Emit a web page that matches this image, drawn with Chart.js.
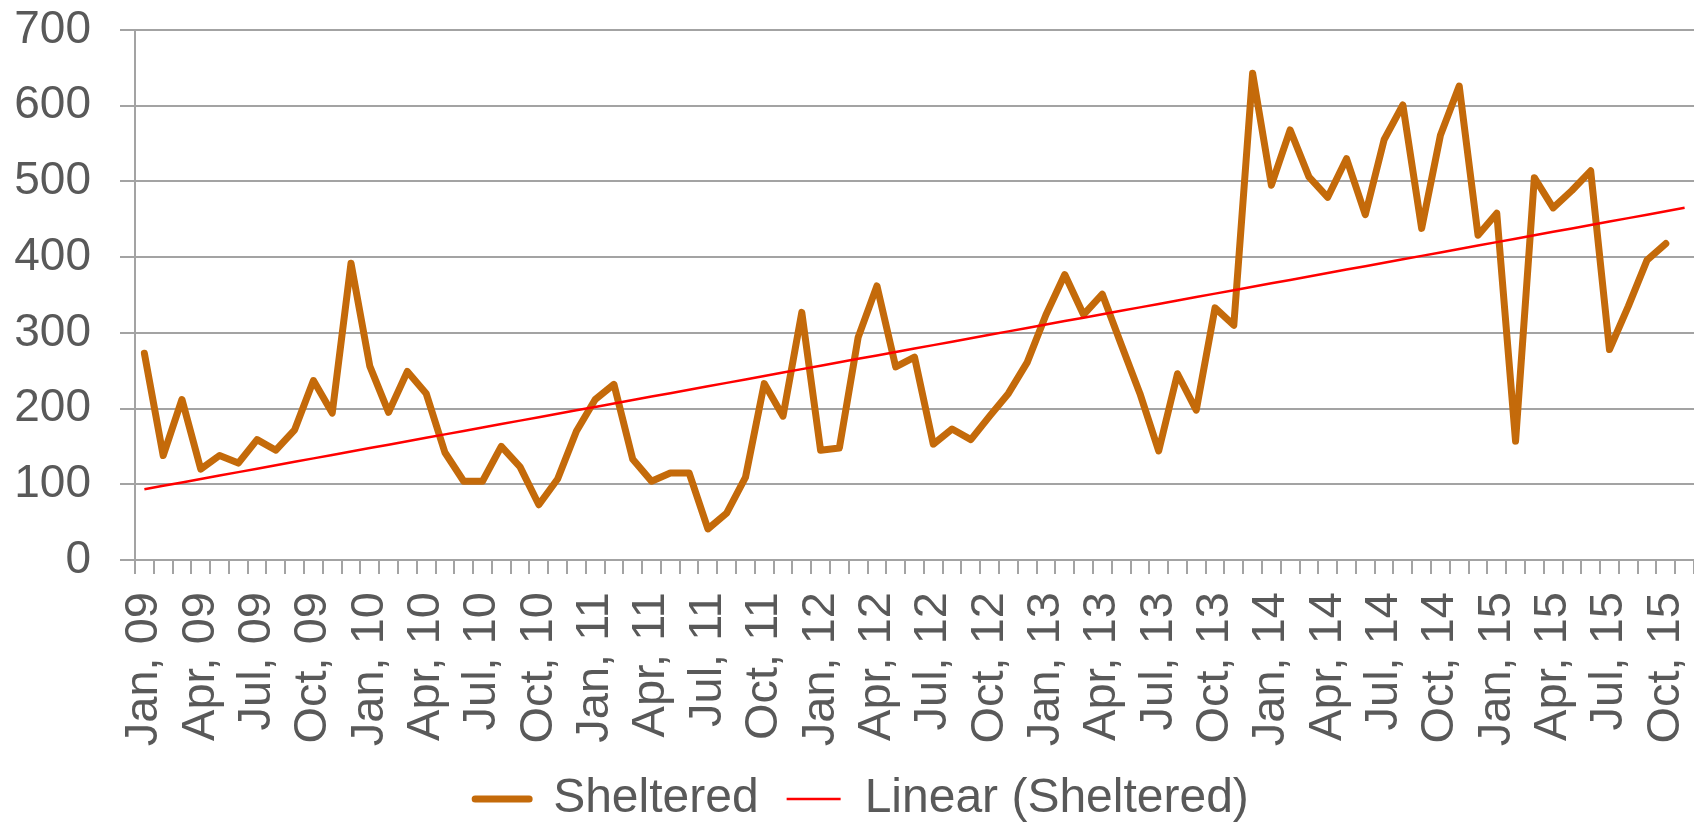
<!DOCTYPE html>
<html>
<head>
<meta charset="utf-8">
<script src="https://cdn.jsdelivr.net/npm/chart.js@4.4.1/dist/chart.umd.min.js"></script>
<style>
html,body{margin:0;padding:0;background:#ffffff;}
#wrap{width:1694px;height:825px;position:relative;}
</style>
</head>
<body>
<div id="wrap"><canvas id="c" width="1694" height="825"></canvas></div>
<script>
// Monthly categories (last one, Nov 15, only carries the one-period trend forecast)
const categories = [
  "Jan, 09","Feb, 09","Mar, 09","Apr, 09","May, 09","Jun, 09","Jul, 09","Aug, 09","Sep, 09","Oct, 09","Nov, 09","Dec, 09",
  "Jan, 10","Feb, 10","Mar, 10","Apr, 10","May, 10","Jun, 10","Jul, 10","Aug, 10","Sep, 10","Oct, 10","Nov, 10","Dec, 10",
  "Jan, 11","Feb, 11","Mar, 11","Apr, 11","May, 11","Jun, 11","Jul, 11","Aug, 11","Sep, 11","Oct, 11","Nov, 11","Dec, 11",
  "Jan, 12","Feb, 12","Mar, 12","Apr, 12","May, 12","Jun, 12","Jul, 12","Aug, 12","Sep, 12","Oct, 12","Nov, 12","Dec, 12",
  "Jan, 13","Feb, 13","Mar, 13","Apr, 13","May, 13","Jun, 13","Jul, 13","Aug, 13","Sep, 13","Oct, 13","Nov, 13","Dec, 13",
  "Jan, 14","Feb, 14","Mar, 14","Apr, 14","May, 14","Jun, 14","Jul, 14","Aug, 14","Sep, 14","Oct, 14","Nov, 14","Dec, 14",
  "Jan, 15","Feb, 15","Mar, 15","Apr, 15","May, 15","Jun, 15","Jul, 15","Aug, 15","Sep, 15","Oct, 15","Nov, 15"
];

// Sheltered, Jan 09 .. Oct 15
const sheltered = [
  273,138,212,120,138,128,159,145,172,237,194,392,
  256,195,249,220,142,104,104,150,123,73,107,170,
  212,232,133,104,115,115,41,62,109,233,190,327,
  145,148,294,362,255,268,153,173,159,190,220,261,
  324,377,324,351,285,220,144,246,198,333,310,643,
  495,568,506,479,530,456,555,601,438,561,626,429,
  458,157,505,465,488,514,278,335,396,418
];

const seriesNames = ["Sheltered", "Linear (Sheltered)"];
const yTickValues = [0, 100, 200, 300, 400, 500, 600, 700];
const labelEvery = 3;

// Linear least-squares trendline of the series (as the "Linear" trendline does)
function linearTrend(values, length) {
  const n = values.length;
  let sx = 0, sy = 0, sxx = 0, sxy = 0;
  values.forEach((v, i) => { sx += i; sy += v; sxx += i * i; sxy += i * v; });
  const slope = (n * sxy - sx * sy) / (n * sxx - sx * sx);
  const intercept = (sy - slope * sx) / n;
  return Array.from({length}, (_, i) => intercept + slope * i);
}
const trend = linearTrend(sheltered, categories.length);

const TEXT = '#595959';
const GRID = '#a3a3a3';
const FONT = "'Liberation Sans', Arial, sans-serif";

// shift the centred legend a little to the right, like the original
const legendShift = {
  id: 'legendShift',
  afterLayout(chart) {
    const lg = chart.legend;
    if (lg) { lg.left += 15; lg.right += 15; }
  }
};

new Chart(document.getElementById('c'), {
  type: 'line',
  data: {
    labels: categories,
    datasets: [
      {
        label: seriesNames[0],
        data: sheltered,
        borderColor: '#C46A0A',
        backgroundColor: '#C46A0A',
        borderWidth: 7,
        tension: 0,
        pointRadius: 0,
        pointHoverRadius: 0,
        pointStyle: 'line',
        pointBorderWidth: 7,
        pointBorderColor: '#C46A0A',
        borderJoinStyle: 'round',
        borderCapStyle: 'round',
        fill: false,
        order: 1
      },
      {
        label: seriesNames[1],
        data: trend,
        borderColor: '#FF0000',
        backgroundColor: '#FF0000',
        borderWidth: 2.5,
        tension: 0,
        pointRadius: 0,
        pointHoverRadius: 0,
        pointStyle: 'line',
        pointBorderWidth: 2.5,
        pointBorderColor: '#FF0000',
        fill: false,
        order: 0
      }
    ]
  },
  plugins: [legendShift],
  options: {
    responsive: false,
    animation: false,
    events: [],
    layout: { padding: { left: 0, top: 30, right: 0, bottom: -8 } },
    plugins: {
      tooltip: { enabled: false },
      title: { display: false },
      legend: {
        display: true,
        position: 'bottom',
        align: 'center',
        labels: {
          usePointStyle: true,
          pointStyleWidth: 54,
          padding: 28,
          color: TEXT,
          font: { family: FONT, size: 48 },
          sort: (a, b) => a.datasetIndex - b.datasetIndex,
          generateLabels: (chart) => {
            const items = Chart.defaults.plugins.legend.labels.generateLabels(chart);
            items.forEach((it) => { it.lineCap = it.datasetIndex === 0 ? 'round' : 'butt'; });
            return items;
          }
        }
      }
    },
    scales: {
      x: {
        type: 'category',
        offset: true,
        grid: {
          offset: true,
          drawOnChartArea: false,
          drawTicks: true,
          tickLength: 14,
          color: GRID,
          lineWidth: 2
        },
        border: { display: true, color: GRID, width: 2 },
        ticks: {
          autoSkip: false,
          maxRotation: 90,
          minRotation: 90,
          padding: 18,
          color: TEXT,
          font: { family: FONT, size: 47 },
          callback: function(value, index) {
            return index % labelEvery === 0 ? categories[index] : '';
          }
        },
        afterFit: (scale) => {
          scale.height = 187;
          scale.paddingLeft = 0;
          scale.paddingRight = 0;
        }
      },
      y: {
        type: 'linear',
        min: yTickValues[0],
        max: yTickValues[yTickValues.length - 1],
        afterBuildTicks: (scale) => { scale.ticks = yTickValues.map(v => ({ value: v })); },
        grid: {
          drawOnChartArea: true,
          drawTicks: true,
          tickLength: 15,
          color: GRID,
          lineWidth: 2
        },
        border: { display: true, color: GRID, width: 2 },
        ticks: {
          padding: 29,
          color: TEXT,
          font: { family: FONT, size: 46 }
        },
        afterFit: (scale) => {
          scale.width = 135;
          scale.paddingTop = 0;
          scale.paddingBottom = 0;
        }
      }
    }
  }
});
</script>
</body>
</html>
